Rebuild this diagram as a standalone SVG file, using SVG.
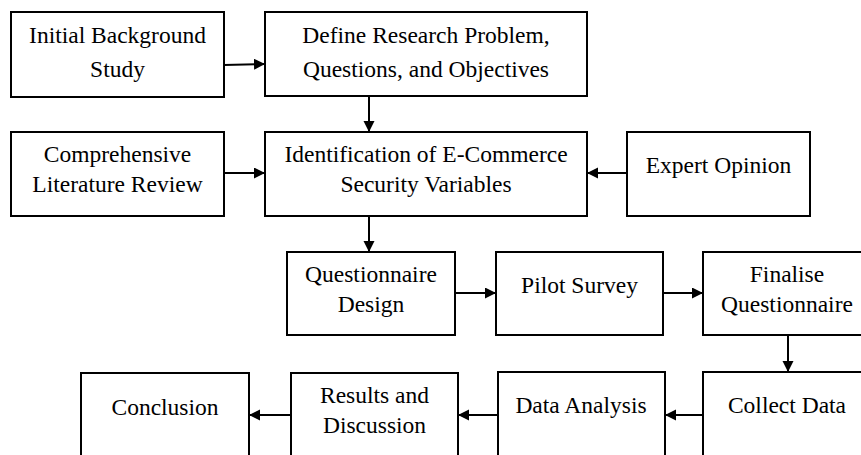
<svg xmlns="http://www.w3.org/2000/svg" width="861" height="455" viewBox="0 0 861 455">
  <style>
    .box { fill: #ffffff; stroke: #000000; stroke-width: 2; }
    .lbl { font-size: 23.5px; fill: #000000; text-anchor: middle; }
    .edge { stroke: #000000; stroke-width: 2; fill: none; marker-end: url(#arrow); }
  </style>
  <defs>
    <marker id="arrow" markerUnits="userSpaceOnUse" markerWidth="12" markerHeight="12" viewBox="0 0 12 12" refX="11" refY="5.5" orient="auto">
      <path d="M0,0 L11,5.5 L0,11 z" fill="#000000"/>
    </marker>
  </defs>
  <rect width="861" height="455" fill="#ffffff"/>

  <g font-family="'Liberation Serif', 'DejaVu Serif', serif">
  <!-- row 1 -->
  <g id="background-study">
    <rect class="box" x="11" y="12" width="213" height="85"/>
    <text class="lbl" x="117.5" y="43">Initial Background</text>
    <text class="lbl" x="117.5" y="76.5">Study</text>
  </g>
  <g id="define-problem">
    <rect class="box" x="265" y="12" width="322" height="84"/>
    <text class="lbl" x="426" y="43">Define Research Problem,</text>
    <text class="lbl" x="426" y="76.5">Questions, and Objectives</text>
  </g>

  <!-- row 2 -->
  <g id="literature-review">
    <rect class="box" x="11" y="132" width="213" height="84"/>
    <text class="lbl" x="117.5" y="162">Comprehensive</text>
    <text class="lbl" x="117.5" y="192">Literature Review</text>
  </g>
  <g id="identification">
    <rect class="box" x="265" y="132" width="322" height="84"/>
    <text class="lbl" x="426" y="162">Identification of E-Commerce</text>
    <text class="lbl" x="426" y="192">Security Variables</text>
  </g>
  <g id="expert-opinion">
    <rect class="box" x="627" y="132" width="183" height="84"/>
    <text class="lbl" x="718.5" y="173">Expert Opinion</text>
  </g>

  <!-- row 3 -->
  <g id="questionnaire-design">
    <rect class="box" x="287" y="252" width="168" height="83"/>
    <text class="lbl" x="371" y="282">Questionnaire</text>
    <text class="lbl" x="371" y="312">Design</text>
  </g>
  <g id="pilot-survey">
    <rect class="box" x="496" y="252" width="167" height="83"/>
    <text class="lbl" x="579.5" y="293">Pilot Survey</text>
  </g>
  <g id="finalise-questionnaire">
    <rect class="box" x="703" y="252" width="168" height="83"/>
    <text class="lbl" x="787" y="282">Finalise</text>
    <text class="lbl" x="787" y="312">Questionnaire</text>
  </g>

  <!-- row 4 -->
  <g id="collect-data">
    <rect class="box" x="703" y="372" width="168" height="85"/>
    <text class="lbl" x="787" y="413">Collect Data</text>
  </g>
  <g id="data-analysis">
    <rect class="box" x="498" y="372" width="167" height="85"/>
    <text class="lbl" x="581" y="413">Data Analysis</text>
  </g>
  <g id="results-discussion">
    <rect class="box" x="291" y="373" width="167" height="84"/>
    <text class="lbl" x="374.5" y="403">Results and</text>
    <text class="lbl" x="374.5" y="433">Discussion</text>
  </g>
  <g id="conclusion">
    <rect class="box" x="81" y="373" width="168" height="84"/>
    <text class="lbl" x="165" y="415">Conclusion</text>
  </g>
  </g>

  <!-- connectors -->
  <g id="connectors">
    <line class="edge" x1="224" y1="65" x2="265" y2="64"/>
    <line class="edge" x1="369" y1="96" x2="369" y2="132"/>
    <line class="edge" x1="224" y1="173" x2="265" y2="173"/>
    <line class="edge" x1="627" y1="173" x2="587" y2="173"/>
    <line class="edge" x1="369" y1="216" x2="369" y2="252"/>
    <line class="edge" x1="455" y1="293" x2="496" y2="293"/>
    <line class="edge" x1="663" y1="293" x2="703" y2="293"/>
    <line class="edge" x1="788" y1="335" x2="788" y2="372"/>
    <line class="edge" x1="703" y1="415" x2="665" y2="415"/>
    <line class="edge" x1="498" y1="415" x2="458" y2="415"/>
    <line class="edge" x1="291" y1="415" x2="249" y2="415"/>
  </g>
</svg>
